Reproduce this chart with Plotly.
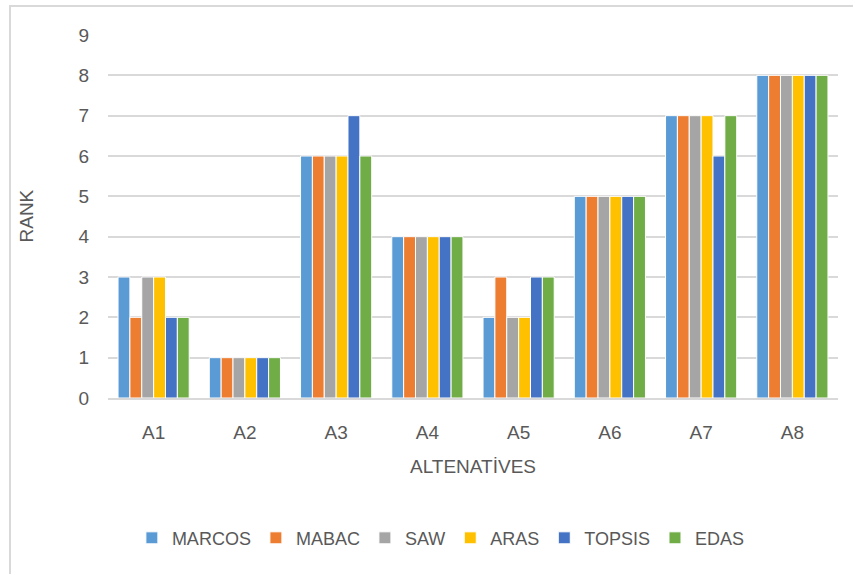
import plotly.graph_objects as go

categories = ["A1", "A2", "A3", "A4", "A5", "A6", "A7", "A8"]
marcos = [3, 1, 6, 4, 2, 5, 7, 8]
mabac = [2, 1, 6, 4, 3, 5, 7, 8]
saw = [3, 1, 6, 4, 2, 5, 7, 8]
aras = [3, 1, 6, 4, 2, 5, 7, 8]
topsis = [2, 1, 7, 4, 3, 5, 6, 8]
edas = [2, 1, 6, 4, 3, 5, 7, 8]
series_names = ["MARCOS", "MABAC", "SAW", "ARAS", "TOPSIS", "EDAS"]
series_values = [marcos, mabac, saw, aras, topsis, edas]
colors = ["#5B9BD5", "#ED7D31", "#A5A5A5", "#FFC000", "#4472C4", "#70AD47"]

font_family = "Liberation Sans, Arial, sans-serif"
grey = "#595959"
clear = "rgba(0,0,0,0)"

fig = go.Figure()
for name, vals, col in zip(series_names, series_values, colors):
    fig.add_trace(go.Bar(x=categories, y=vals, name=name,
                         marker=dict(color=col, line=dict(color="white", width=1))))

fig.update_layout(
    width=853, height=574,
    margin=dict(l=108, r=15, t=35, b=176),
    paper_bgcolor="white", plot_bgcolor="white",
    barmode="group", bargap=0.22, bargroupgap=0,
    font=dict(family=font_family, color=grey, size=18),
    showlegend=True,
    legend=dict(orientation="h", x=0.456, xanchor="center", y=-0.386, yanchor="middle",
                font=dict(size=18, color=grey), itemwidth=30, tracegroupgap=0),
    xaxis=dict(showgrid=False, showline=True, linecolor="#d9d9d9", linewidth=2,
               ticks="outside", ticklen=16, tickcolor=clear,
               tickfont=dict(size=19, color=grey)),
    yaxis=dict(range=[0, 9], dtick=1, showgrid=True, gridcolor="#d9d9d9", gridwidth=1.5,
               zeroline=False, showline=False, ticks="outside", ticklen=14, tickcolor=clear,
               tickfont=dict(size=19, color=grey)),
    shapes=[dict(type="rect", xref="paper", yref="paper",
                 x0=-98/730, x1=1 + 40/730, y0=-220/363, y1=1 + 29/363,
                 line=dict(color="#d9d9d9", width=2), fillcolor=clear, layer="below")],
    annotations=[
        dict(text="RANK", xref="paper", yref="paper", x=-82/730, y=0.5,
             textangle=-90, showarrow=False, font=dict(size=19, color=grey),
             xanchor="center", yanchor="middle"),
        dict(text="ALTENATİVES", xref="paper", yref="paper", x=0.5, y=-68/363,
             showarrow=False, font=dict(size=19, color=grey),
             xanchor="center", yanchor="middle"),
    ],
)
fig.write_html("out.html", config={"displayModeBar": False},
               post_script="document.body.style.margin='0';")
